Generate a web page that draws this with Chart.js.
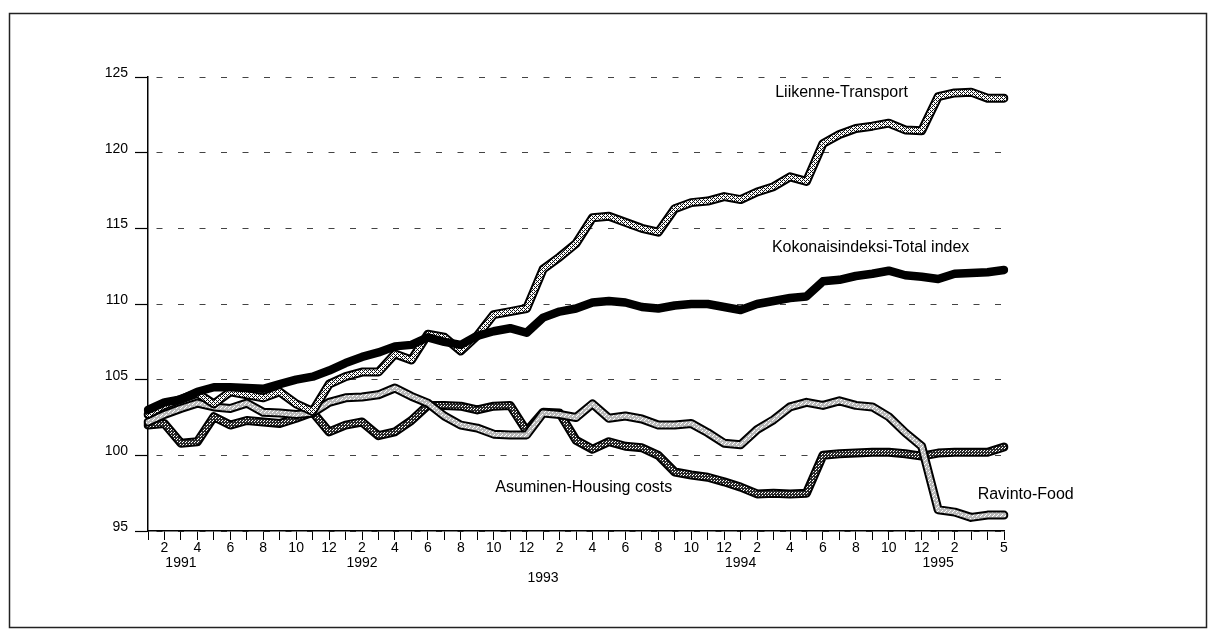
<!DOCTYPE html>
<html>
<head>
<meta charset="utf-8">
<script src="https://cdn.jsdelivr.net/npm/chart.js@4.4.0/dist/chart.umd.min.js"></script>
<style>
  html, body { margin: 0; padding: 0; background: #fff; }
</style>
</head>
<body>
<canvas id="myChart" width="1216" height="636"></canvas>
<script>
// kuukaudet 1/1991 - 5/1995
const categories = [
  '1991-1','1991-2','1991-3','1991-4','1991-5','1991-6','1991-7','1991-8','1991-9','1991-10','1991-11','1991-12',
  '1992-1','1992-2','1992-3','1992-4','1992-5','1992-6','1992-7','1992-8','1992-9','1992-10','1992-11','1992-12',
  '1993-1','1993-2','1993-3','1993-4','1993-5','1993-6','1993-7','1993-8','1993-9','1993-10','1993-11','1993-12',
  '1994-1','1994-2','1994-3','1994-4','1994-5','1994-6','1994-7','1994-8','1994-9','1994-10','1994-11','1994-12',
  '1995-1','1995-2','1995-3','1995-4','1995-5'
];

// month numbers printed under the axis (one per category, '' = none)
const monthTickLabels = [
  '', '2', '', '4', '', '6', '', '8', '', '10', '', '12',
  '', '2', '', '4', '', '6', '', '8', '', '10', '', '12',
  '', '2', '', '4', '', '6', '', '8', '', '10', '', '12',
  '', '2', '', '4', '', '6', '', '8', '', '10', '', '12',
  '', '2', '', '', '5'
];
// year label -> category under which it is printed, and on which text row
const yearTickLabels = ['1991', '1992', '1993', '1994', '1995'];
const yearTickAt = ['1991-3', '1992-2', '1993-1', '1994-1', '1995-1'];
const yearTickRow = [1, 1, 2, 1, 1];

const yTicks = [95, 100, 105, 110, 115, 120, 125];

const totalIndex = [
  103.0, 103.5, 103.7, 104.2, 104.5, 104.5, 104.45, 104.4, 104.7, 105.0, 105.2, 105.6,
  106.1, 106.5, 106.8, 107.2, 107.3, 107.8, 107.5, 107.3, 107.9, 108.2, 108.4, 108.1,
  109.1, 109.5, 109.7, 110.1, 110.2, 110.1, 109.8, 109.7, 109.9, 110.0, 110.0, 109.8,
  109.6, 110.0, 110.2, 110.4, 110.5, 111.5, 111.6, 111.85, 112.0, 112.2, 111.9, 111.8,
  111.65, 112.0, 112.05, 112.1, 112.25
];
const transport = [
  102.7, 103.3, 103.7, 104.1, 103.4, 104.2, 104.0, 103.8, 104.2, 103.4, 102.9, 104.7,
  105.2, 105.5, 105.5, 106.7, 106.3, 108.0, 107.8, 106.9, 107.9, 109.3, 109.5, 109.7,
  112.3, 113.1, 114.0, 115.7, 115.8, 115.4, 115.0, 114.75, 116.3, 116.7, 116.8, 117.1,
  116.9, 117.4, 117.75, 118.4, 118.1, 120.6, 121.2, 121.6, 121.75, 121.95, 121.5, 121.45,
  123.7, 123.95, 124.0, 123.6, 123.6
];
const food = [
  102.2, 102.7, 103.1, 103.45, 103.2, 103.1, 103.45, 102.85, 102.8, 102.7, 102.8, 103.5,
  103.8, 103.85, 104.0, 104.45, 103.9, 103.45, 102.6, 102.0, 101.8, 101.4, 101.35, 101.35,
  102.8, 102.7, 102.5, 103.4, 102.45, 102.6, 102.4, 102.0, 102.0, 102.1, 101.5, 100.8,
  100.7, 101.7, 102.35, 103.2, 103.5, 103.3, 103.6, 103.3, 103.2, 102.55, 101.5, 100.6,
  96.4, 96.25, 95.9, 96.05, 96.05
];
const housing = [
  102.0, 102.1, 100.8, 100.9, 102.55, 102.0, 102.3, 102.2, 102.1, 102.45, 102.85, 101.55,
  102.0, 102.2, 101.3, 101.55, 102.3, 103.3, 103.3, 103.25, 103.0, 103.25, 103.3, 101.6,
  102.85, 102.8, 101.0, 100.4, 100.9, 100.6, 100.5, 100.0, 98.9, 98.7, 98.55, 98.25,
  97.9, 97.45, 97.5, 97.45, 97.5, 100.0, 100.1, 100.15, 100.2, 100.2, 100.1, 99.95,
  100.15, 100.2, 100.2, 100.2, 100.55
];

const seriesNames = ['Kokonaisindeksi-Total index', 'Liikenne-Transport', 'Ravinto-Food', 'Asuminen-Housing costs'];

const FONT = "'Liberation Sans', Arial, Helvetica, sans-serif";
const canvas = document.getElementById('myChart');
const ctx = canvas.getContext('2d');

// pieni rasterikuvio viivojen sisään
function makePattern(size, bg, fg, dots) {
  const c = document.createElement('canvas');
  c.width = size; c.height = size;
  const g = c.getContext('2d');
  g.fillStyle = bg;
  g.fillRect(0, 0, size, size);
  g.fillStyle = fg;
  dots.forEach(([x, y]) => g.fillRect(x, y, 1, 1));
  return ctx.createPattern(c, 'repeat');
}
const hatchTransport = makePattern(4, '#ffffff', '#111111', [[0, 0], [1, 1], [2, 2], [3, 3], [2, 0], [0, 2]]);
const dotsFood = makePattern(4, '#b8b8b8', '#ffffff', [[0, 0], [2, 2], [1, 3]]);
const dotsHousing = makePattern(3, '#2a2a2a', '#ffffff', [[0, 0], [2, 1]]);

function outlined(label, data, inner, order) {
  return [
    { label: label, data: data, borderColor: inner, borderWidth: 5, order: order },
    { label: label + ' outline', data: data, borderColor: '#000', borderWidth: 9, order: order + 1 }
  ];
}

// annotation texts placed in data space (category index, value)
const seriesLabelPlugin = {
  id: 'seriesLabels',
  afterDatasetsDraw(chart) {
    const { ctx, scales: { x, y } } = chart;
    const anchors = [[37.9, 113.7], [38.1, 124.0], [50.4, 97.4], [21.1, 97.85]];
    ctx.save();
    ctx.font = '16px ' + FONT;
    ctx.fillStyle = '#000';
    ctx.textAlign = 'left';
    ctx.textBaseline = 'middle';
    seriesNames.forEach((t, i) => {
      ctx.fillText(t, x.getPixelForValue(anchors[i][0]), y.getPixelForValue(anchors[i][1]));
    });
    ctx.restore();
  }
};

const framePlugin = {
  id: 'frame',
  beforeDraw(chart) {
    const { ctx, width, height } = chart;
    ctx.save();
    ctx.fillStyle = '#fff';
    ctx.fillRect(0, 0, width, height);
    ctx.strokeStyle = '#222';
    ctx.lineWidth = 1.5;
    ctx.strokeRect(9.5, 13.5, width - 19, height - 22);
    ctx.restore();
  }
};

const config = {
  type: 'line',
  data: {
    labels: categories,
    datasets: [
      { label: seriesNames[0], data: totalIndex, borderColor: '#000', borderWidth: 8.5, order: 1 },
      ...outlined(seriesNames[1], transport, hatchTransport, 3),
      ...outlined(seriesNames[2], food, dotsFood, 5),
      ...outlined(seriesNames[3], housing, dotsHousing, 7)
    ]
  },
  options: {
    responsive: false,
    animation: false,
    devicePixelRatio: 1,
    layout: { padding: { left: 0, right: 212, top: 77, bottom: 0 } },
    elements: {
      point: { radius: 0 },
      line: { tension: 0, borderJoinStyle: 'round', borderCapStyle: 'round', fill: false }
    },
    plugins: {
      legend: { display: false },
      tooltip: { enabled: false }
    },
    scales: {
      x: {
        type: 'category',
        offset: false,
        afterFit: (s) => { s.height = 105; },
        grid: { drawOnChartArea: false, drawTicks: true, tickLength: 9, tickColor: '#000', tickWidth: 1 },
        border: { display: true, color: '#000', width: 1.5 },
        ticks: {
          autoSkip: false,
          maxRotation: 0,
          minRotation: 0,
          padding: 0,
          color: '#000',
          font: { family: FONT, size: 14, lineHeight: 1.1 },
          callback: function (value, index) {
            const cat = categories[index];
            const lines = [monthTickLabels[index]];
            const k = yearTickAt.indexOf(cat);
            if (k >= 0) {
              while (lines.length < yearTickRow[k]) lines.push('');
              lines.push(yearTickLabels[k]);
            }
            return lines.length === 1 ? lines[0] : lines;
          }
        }
      },
      y: {
        min: 95,
        max: 125,
        afterFit: (s) => { s.width = 148; },
        afterBuildTicks: (s) => { s.ticks = yTicks.map(v => ({ value: v })); },
        grid: { color: '#444', lineWidth: 1, tickLength: 13, tickColor: '#000', tickWidth: 1.2, tickBorderDash: [] },
        border: { display: true, color: '#000', width: 1.5, dash: [6, 15.5], dashOffset: 13.5 },
        ticks: {
          padding: 7,
          labelOffset: -4,
          color: '#000',
          font: { family: FONT, size: 14 }
        }
      }
    }
  },
  plugins: [framePlugin, seriesLabelPlugin]
};

const myChart = new Chart(canvas, config);
</script>
</body>
</html>
